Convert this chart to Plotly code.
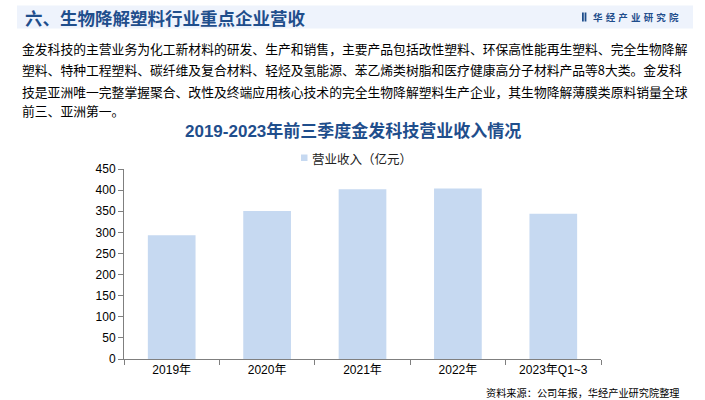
import plotly.graph_objects as go

categories = ["2019年", "2020年", "2021年", "2022年", "2023年Q1~3"]
revenue = [292.9, 350.6, 402.0, 404.0, 343.9]
series_name = "营业收入（亿元）"
y_ticks = [0, 50, 100, 150, 200, 250, 300, 350, 400, 450]

header_title = "六、生物降解塑料行业重点企业营收"
brand = "华经产业研究院"
paragraph_lines = [
    "金发科技的主营业务为化工新材料的研发、生产和销售，主要产品包括改性塑料、环保高性能再生塑料、完全生物降解",
    "塑料、特种工程塑料、碳纤维及复合材料、轻烃及氢能源、苯乙烯类树脂和医疗健康高分子材料产品等8大类。金发科",
    "技是亚洲唯一完整掌握聚合、改性及终端应用核心技术的完全生物降解塑料生产企业，其生物降解薄膜类原料销量全球",
    "前三、亚洲第一。",
]
chart_title = "2019-2023年前三季度金发科技营业收入情况"
source = "资料来源：公司年报，华经产业研究院整理"

CJK = "Noto Sans CJK SC"
W, H = 705, 400
blue = "#1F4E8C"
bar_color = "#C6D9F1"

fig = go.Figure()
fig.add_trace(go.Bar(
    x=categories, y=revenue, name=series_name,
    marker=dict(color=bar_color, line=dict(width=0)),
    showlegend=False,
))

fig.update_layout(
    width=W, height=H,
    margin=dict(l=124, r=104, t=169, b=41, autoexpand=False),
    paper_bgcolor="white", plot_bgcolor="white",
    bargap=0.5,
    font=dict(family="Liberation Sans, " + CJK, size=12, color="#000"),
    showlegend=False,
    xaxis=dict(
        showline=True, linecolor="#7F7F7F", linewidth=1,
        ticks="outside", ticklen=5, tickcolor="#7F7F7F", tickson="boundaries",
        tickfont=dict(family="Liberation Sans, " + CJK, size=12, color="#000"),
        showgrid=False, fixedrange=True,
    ),
    yaxis=dict(
        range=[0, 450], tickvals=y_ticks,
        showline=True, linecolor="#7F7F7F", linewidth=1,
        ticks="outside", ticklen=5, tickcolor="#7F7F7F",
        tickfont=dict(family="Liberation Sans", size=12, color="#000"),
        showgrid=False, zeroline=False, fixedrange=True,
    ),
)

def px_x(x):
    return (x - 124) / 477

def px_y(y):
    return (359 - y) / 190

shapes = [
    dict(type="rect", xref="paper", yref="paper",
         x0=px_x(17), x1=px_x(693), y0=px_y(28.5), y1=px_y(5.5),
         fillcolor="#EEF3FC", line=dict(width=0), layer="below"),
    dict(type="rect", xref="paper", yref="paper",
         x0=px_x(582), x1=px_x(583.8), y0=px_y(21.5), y1=px_y(12.5),
         fillcolor=blue, line=dict(width=0)),
    dict(type="rect", xref="paper", yref="paper",
         x0=px_x(584.6), x1=px_x(586.4), y0=px_y(21.5), y1=px_y(12.5),
         fillcolor=blue, line=dict(width=0)),
    # legend swatch
    dict(type="rect", xref="paper", yref="paper",
         x0=px_x(301), x1=px_x(307.5), y0=px_y(161), y1=px_y(154.5),
         fillcolor=bar_color, line=dict(width=0)),
]
fig.update_layout(shapes=shapes)

anns = [
    dict(text="<b>" + header_title + "</b>", x=px_x(23), y=px_y(17), xanchor="left", yanchor="middle",
         font=dict(family=CJK, size=17.5, color=blue)),
    dict(text="<b>" + "\u2004".join(brand) + "</b>", x=px_x(591), y=px_y(17), xanchor="left", yanchor="middle",
         font=dict(family=CJK, size=9.5, color=blue)),
    dict(text="<b>" + chart_title + "</b>", x=px_x(353), y=px_y(131), xanchor="center", yanchor="middle",
         font=dict(family="Liberation Sans, " + CJK, size=17, color=blue)),
    dict(text=series_name, x=px_x(310), y=px_y(158), xanchor="left", yanchor="middle",
         font=dict(family=CJK, size=12.5, color="#222")),
    dict(text=source, x=px_x(682), y=px_y(392.5), xanchor="right", yanchor="middle",
         font=dict(family=CJK, size=10.2, color="#000")),
]
line_y = [48.5, 70, 91.5, 111]
for t, yy in zip(paragraph_lines, line_y):
    anns.append(dict(text=t, x=px_x(20), y=px_y(yy), xanchor="left", yanchor="middle",
                     font=dict(family=CJK, size=12.8, color="#000")))
for a in anns:
    a.update(xref="paper", yref="paper", showarrow=False)
fig.update_layout(annotations=anns)

fig.write_html("out.html", config={"displayModeBar": False},
               post_script="document.body.style.margin='0';document.body.style.padding='0';")
